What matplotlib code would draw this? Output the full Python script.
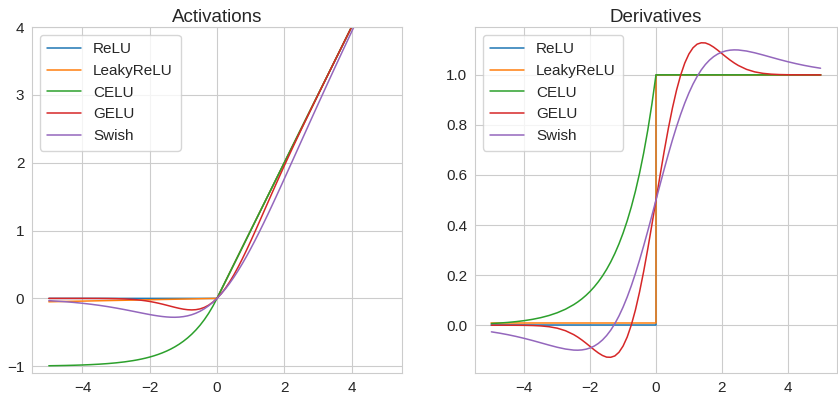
import numpy as np
import matplotlib
matplotlib.use("Agg")
import matplotlib.pyplot as plt
import seaborn as sns

# x grid: step 0.25 on the tails, 0.125 in the middle where the curves bend
x = np.concatenate([np.arange(-5, -2.5, 0.25),
                    np.arange(-2.5, 2.5, 0.125),
                    np.arange(2.5, 5.01, 0.25)])

# --- activations ---
relu_x = [-5, 0, 5]
relu_y = [0, 0, 5]
leaky_x = [-5, 0, 5]
leaky_y = [-0.05, 0, 5]
celu_y = [-0.9933, -0.9913, -0.9889, -0.9857, -0.9817, -0.9765, -0.9698, -0.9612, -0.9502, -0.9361,
          -0.9179, -0.9070, -0.8946, -0.8806, -0.8647, -0.8466, -0.8262, -0.8031, -0.7769, -0.7472,
          -0.7135, -0.6753, -0.6321, -0.5831, -0.5276, -0.4647, -0.3935, -0.3127, -0.2212, -0.1175,
          0.0,
          0.125, 0.25, 0.375, 0.5, 0.625, 0.75, 0.875, 1.0, 1.125, 1.25,
          1.375, 1.5, 1.625, 1.75, 1.875, 2.0, 2.125, 2.25, 2.375,
          2.5, 2.75, 3.0, 3.25, 3.5, 3.75, 4.0, 4.25, 4.5, 4.75, 5.0]
gelu_y = [-0.0000, -0.0000, -0.0000, -0.0000, -0.0001, -0.0003, -0.0008, -0.0019, -0.0041, -0.0082,
          -0.0155, -0.0208, -0.0275, -0.0357, -0.0455, -0.0570, -0.0701, -0.0846, -0.1002, -0.1163,
          -0.1321, -0.1466, -0.1587, -0.1669, -0.1700, -0.1662, -0.1543, -0.1327, -0.1003, -0.0563,
          0.0,
          0.0687, 0.1497, 0.2423, 0.3457, 0.4588, 0.5800, 0.7081, 0.8413, 0.9784, 1.1179,
          1.2587, 1.3998, 1.5404, 1.6799, 1.8180, 1.9545, 2.0893, 2.2225, 2.3542,
          2.4845, 2.7418, 2.9960, 3.2481, 3.4992, 3.7497, 3.9999, 4.2500, 4.5000, 4.7500, 5.0000]
swish_y = [-0.0335, -0.0407, -0.0494, -0.0598, -0.0719, -0.0862, -0.1026, -0.1213, -0.1423, -0.1652,
           -0.1896, -0.2021, -0.2145, -0.2267, -0.2384, -0.2493, -0.2591, -0.2673, -0.2736, -0.2775,
           -0.2784, -0.2757, -0.2689, -0.2574, -0.2406, -0.2179, -0.1888, -0.1528, -0.1095, -0.0586,
           0.0,
           0.0664, 0.1405, 0.2223, 0.3112, 0.4071, 0.5094, 0.6176, 0.7311, 0.8493, 0.9716,
           1.0975, 1.2264, 1.3577, 1.4909, 1.6257, 1.7616, 1.8983, 2.0355, 2.1729,
           2.3104, 2.5848, 2.8577, 3.1287, 3.3974, 3.6638, 3.9281, 4.1902, 4.4506, 4.7093, 4.9665]

# --- derivatives ---
drelu_x = [-5, 0, 0, 5]
drelu_y = [0, 0, 1, 1]
dleaky_x = [-5, 0, 0, 5]
dleaky_y = [0.01, 0.01, 1, 1]
dcelu_y = [0.0067, 0.0087, 0.0111, 0.0143, 0.0183, 0.0235, 0.0302, 0.0388, 0.0498, 0.0639,
           0.0821, 0.0930, 0.1054, 0.1194, 0.1353, 0.1534, 0.1738, 0.1969, 0.2231, 0.2528,
           0.2865, 0.3247, 0.3679, 0.4169, 0.4724, 0.5353, 0.6065, 0.6873, 0.7788, 0.8825,
           1.0,
           1.0, 1.0, 1.0, 1.0, 1.0, 1.0, 1.0, 1.0, 1.0, 1.0,
           1.0, 1.0, 1.0, 1.0, 1.0, 1.0, 1.0, 1.0, 1.0,
           1.0, 1.0, 1.0, 1.0, 1.0, 1.0, 1.0, 1.0, 1.0, 1.0, 1.0]
dgelu_y = [-0.0000, -0.0000, -0.0001, -0.0002, -0.0005, -0.0012, -0.0028, -0.0060, -0.0119, -0.0220,
           -0.0376, -0.0477, -0.0592, -0.0719, -0.0852, -0.0986, -0.1109, -0.1210, -0.1275, -0.1281,
           -0.1227, -0.1081, -0.0833, -0.0473, 0.0008, 0.0609, 0.1325, 0.2144, 0.3046, 0.4008,
           0.5,
           0.5992, 0.6954, 0.7856, 0.8675, 0.9391, 0.9992, 1.0473, 1.0833, 1.1081, 1.1227,
           1.1281, 1.1275, 1.1210, 1.1109, 1.0986, 1.0852, 1.0719, 1.0592, 1.0477,
           1.0376, 1.0220, 1.0119, 1.0060, 1.0028, 1.0012, 1.0005, 1.0002, 1.0001, 1.0000, 1.0000]
dswish_y = [-0.0265, -0.0318, -0.0379, -0.0449, -0.0527, -0.0612, -0.0703, -0.0795, -0.0881, -0.0952,
            -0.0994, -0.0998, -0.0987, -0.0958, -0.0908, -0.0832, -0.0727, -0.0588, -0.0413, -0.0197,
            0.0063, 0.0369, 0.0723, 0.1125, 0.1574, 0.2067, 0.2600, 0.3168, 0.3763, 0.4377,
            0.5,
            0.5623, 0.6237, 0.6832, 0.7400, 0.7933, 0.8426, 0.8875, 0.9277, 0.9631, 0.9937,
            1.0197, 1.0413, 1.0588, 1.0727, 1.0832, 1.0908, 1.0958, 1.0987, 1.0998,
            1.0994, 1.0952, 1.0881, 1.0795, 1.0703, 1.0612, 1.0527, 1.0449, 1.0379, 1.0318, 1.0265]

sns.set_style("whitegrid")
plt.rcParams['font.family'] = ['Liberation Sans', 'DejaVu Sans']

fig = plt.figure(figsize=(8.38, 3.94), dpi=100)
ax1 = fig.add_axes([0.0382, 0.0533, 0.4415, 0.878])
ax2 = fig.add_axes([0.5668, 0.0533, 0.4320, 0.878])

lw = 1.1

# left panel
ax1.plot(relu_x, relu_y, lw=lw, label='ReLU')
ax1.plot(leaky_x, leaky_y, lw=lw, label='LeakyReLU')
ax1.plot(x, celu_y, lw=lw, label='CELU')
ax1.plot(x, gelu_y, lw=lw, label='GELU')
ax1.plot(x, swish_y, lw=lw, label='Swish')
ax1.set_xlim(-5.5, 5.5)
ax1.set_ylim(-1.1, 4)
ax1.set_title('Activations', fontsize=13.5, pad=4)

# right panel
ax2.plot(drelu_x, drelu_y, lw=lw, label='ReLU')
ax2.plot(dleaky_x, dleaky_y, lw=lw, label='LeakyReLU')
ax2.plot(x, dcelu_y, lw=lw, label='CELU')
ax2.plot(x, dgelu_y, lw=lw, label='GELU')
ax2.plot(x, dswish_y, lw=lw, label='Swish')
ax2.set_title('Derivatives', fontsize=13.5, pad=4)

for ax in (ax1, ax2):
    ax.tick_params(labelsize=11, pad=2)
    ax.legend(loc='upper left', fontsize=11, handlelength=2.2, borderpad=0.5)

fig.savefig('out.png', dpi=100)
